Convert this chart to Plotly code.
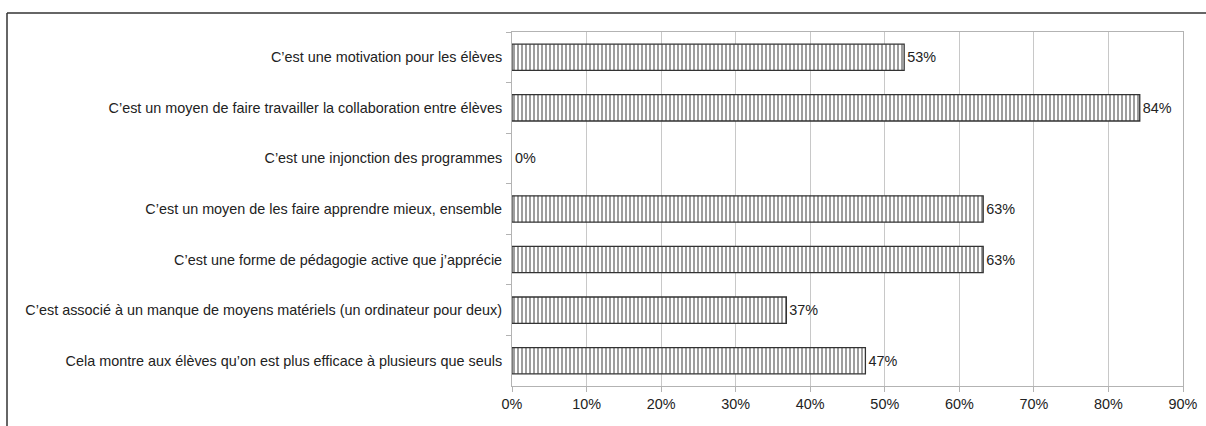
import plotly.graph_objects as go

categories = [
    "C’est une motivation pour les élèves",
    "C’est un moyen de faire travailler la collaboration entre élèves",
    "C’est une injonction des programmes",
    "C’est un moyen de les faire apprendre mieux, ensemble",
    "C’est une forme de pédagogie active que j’apprécie",
    "C’est associé à un manque de moyens matériels (un ordinateur pour deux)",
    "Cela montre aux élèves qu’on est plus efficace à plusieurs que seuls",
]
values = [52.6, 84.2, 0.0, 63.2, 63.2, 36.8, 47.4]
x_ticks = [0, 10, 20, 30, 40, 50, 60, 70, 80, 90]
x_tick_labels = [f"{t}%" for t in x_ticks]

W, H = 1206, 426
L, R, T, B = 512, 23, 32, 40
pw, ph = W - L - R, H - T - B
FS = 14.4

fig = go.Figure(go.Bar(
    x=values, y=categories, orientation="h",
    width=0.52,
    marker=dict(color="white",
                line=dict(color="#333333", width=[1.3 if v > 0 else 0 for v in values]),
                pattern=dict(shape="|", fgcolor="#000000", bgcolor="white",
                             size=4, solidity=0.38)),
    text=[f"{v:.0f}%" for v in values],
    textposition="outside", cliponaxis=False,
    textfont=dict(family="Liberation Sans, Arial", size=FS, color="#222222"),
))

# outer frame lines (top & left)
fx = (7 - L) / pw
fy = (H - B - 13) / ph
fig.add_shape(type="line", xref="paper", yref="paper", x0=fx, x1=(W - L) / pw + 0.01,
              y0=fy, y1=fy, line=dict(color="#333333", width=1.5))
fig.add_shape(type="line", xref="paper", yref="paper", x0=fx, x1=fx,
              y0=fy, y1=-B / ph - 0.01, line=dict(color="#333333", width=1.5))

fig.update_layout(
    width=W, height=H,
    margin=dict(l=L, r=R, t=T, b=B, autoexpand=False),
    plot_bgcolor="white", paper_bgcolor="white",
    showlegend=False,
    font=dict(family="Liberation Sans, Arial", size=FS, color="#222222"),
    xaxis=dict(range=[0, 90], tickvals=x_ticks, ticktext=x_tick_labels,
               showgrid=True, gridcolor="#c8c8c8", gridwidth=1,
               showline=True, linecolor="#b3b3b3", mirror=True,
               ticks="outside", ticklen=5, tickcolor="#b3b3b3",
               zeroline=False, tickfont=dict(size=FS), automargin=False),
    yaxis=dict(autorange="reversed", showline=True, linecolor="#b3b3b3",
               mirror=True, ticks="outside", ticklen=5, tickcolor="#b3b3b3",
               tickson="boundaries", showgrid=False, ticklabelstandoff=6,
               tickfont=dict(size=FS), automargin=False),
    bargap=0.48,
)

fig.write_html("out.html")
